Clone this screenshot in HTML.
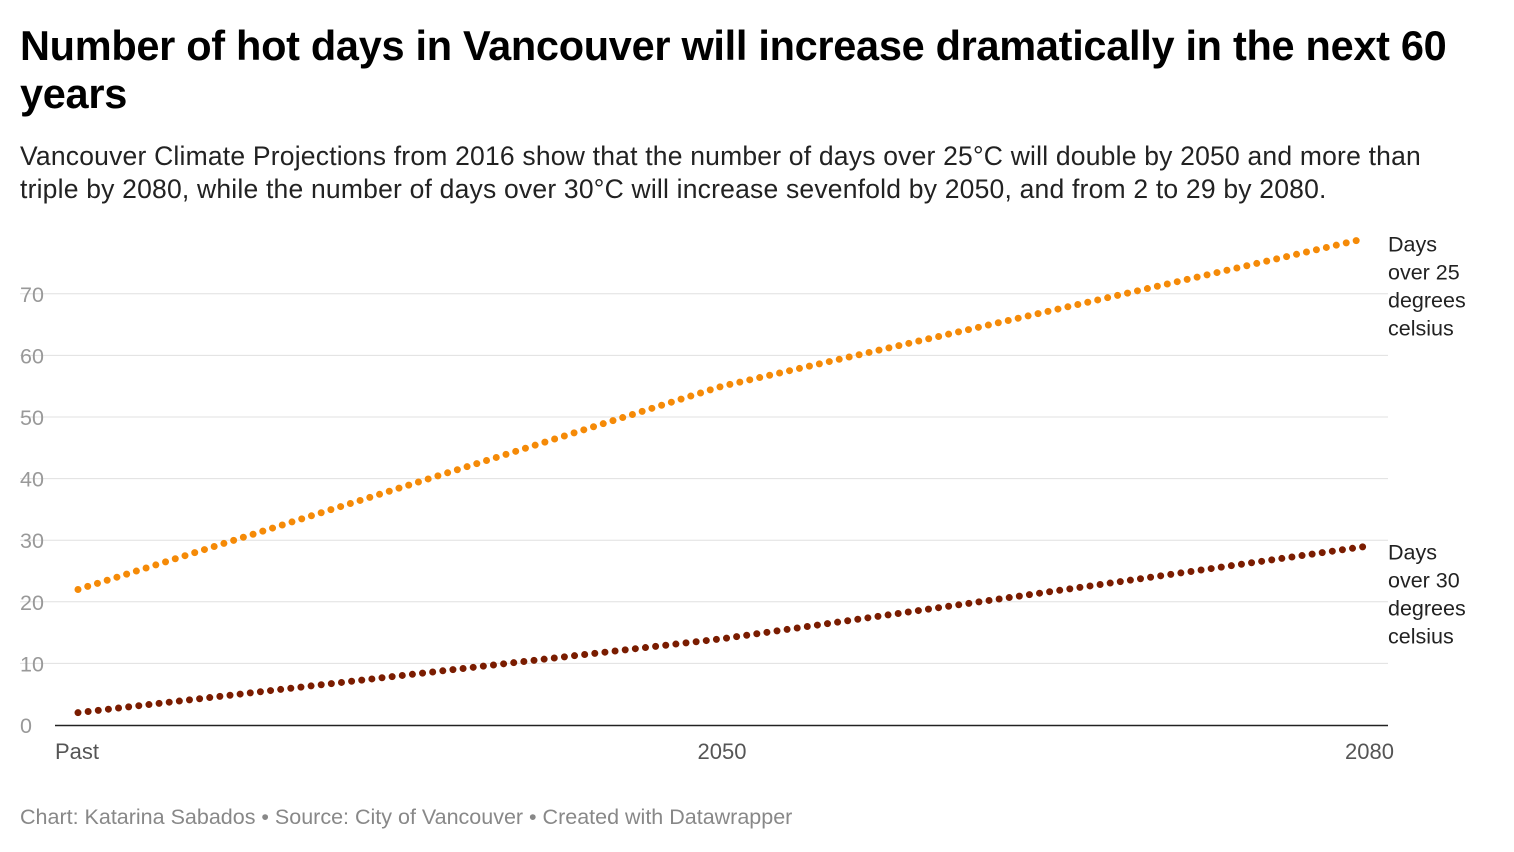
<!DOCTYPE html>
<html><head><meta charset="utf-8"><style>
body{margin:0;width:1514px;height:852px;background:#fff;font-family:"Liberation Sans",sans-serif;overflow:hidden;position:relative}
#title{position:absolute;left:20px;top:22px;width:1490px;font-size:41.5px;font-weight:bold;line-height:48px;color:#000;margin:0;letter-spacing:-0.3px}
#sub{position:absolute;left:20px;top:140px;width:1465px;font-size:26.5px;line-height:33px;color:#222;margin:0;letter-spacing:0.2px}
#foot{position:absolute;left:20px;top:805px;font-size:21.5px;color:#888}
svg{position:absolute;left:0;top:0}
</style></head><body>
<h1 id="title">Number of hot days in Vancouver will increase dramatically in the next 60 years</h1>
<p id="sub">Vancouver Climate Projections from 2016 show that the number of days over 25°C will double by 2050 and more than triple by 2080, while the number of days over 30°C will increase sevenfold by 2050, and from 2 to 29 by 2080.</p>
<svg id="chart" width="1514" height="852"></svg>
<div id="foot">Chart: Katarina Sabados • Source: City of Vancouver • Created with Datawrapper</div>
<script>
const categories=["Past","2050","2080"];
const xPos=[0,50,100];
const over25=[22,55,79];
const over30=[2,14,29];
const yTicks=[0,10,20,30,40,50,60,70];
const seriesLabels=[["Days","over 25","degrees","celsius"],["Days","over 30","degrees","celsius"]];
const svg=document.getElementById('chart');
const NS='http://www.w3.org/2000/svg';
const X=v=>78+(1366-78)*v/100;
const Y=v=>725-v*6.16;
function mk(t,a){const e=document.createElementNS(NS,t);for(const k in a)e.setAttribute(k,a[k]);svg.appendChild(e);return e;}
yTicks.forEach(t=>{
 if(t>0){const g=mk('line',{x1:20,x2:1388,y1:Y(t),y2:Y(t),stroke:'#e0e0e0','stroke-width':1});
 
 }
 const tx=mk('text',{x:20,y:Y(t)+8,'font-size':21.5,fill:'#999','font-family':'Liberation Sans'});
 tx.textContent=t;
 
 
});
const ax=mk('line',{x1:55,x2:1388,y1:725.5,y2:725.5,stroke:'#222','stroke-width':1.5});


categories.forEach((c,i)=>{
 const anchor=i==0?'start':(i==2?'end':'middle');
 const tx=mk('text',{x:i==0?55:(i==2?1394:X(xPos[i])),y:759,'font-size':22,fill:'#555','text-anchor':anchor,'font-family':'Liberation Sans'});
 tx.textContent=c;
 
 
});
[[over25,'#f58a07'],[over30,'#7a1c00']].forEach(([d,col],si)=>{
 const pts=d.map((v,i)=>X(xPos[i])+','+Y(v)).join(' ');
 const p=mk('polyline',{points:pts,fill:'none',stroke:col,'stroke-width':7,'stroke-linecap':'round','stroke-dasharray':'0 10.2'});
 
 
 const top=Y(d[d.length-1])+13;
 seriesLabels[si].forEach((s,j)=>{
  const t=mk('text',{x:1388,y:top+j*28,'font-size':21.5,fill:'#222','font-family':'Liberation Sans'});
  t.textContent=s;
  
  
 });
});
</script>
</body></html>
